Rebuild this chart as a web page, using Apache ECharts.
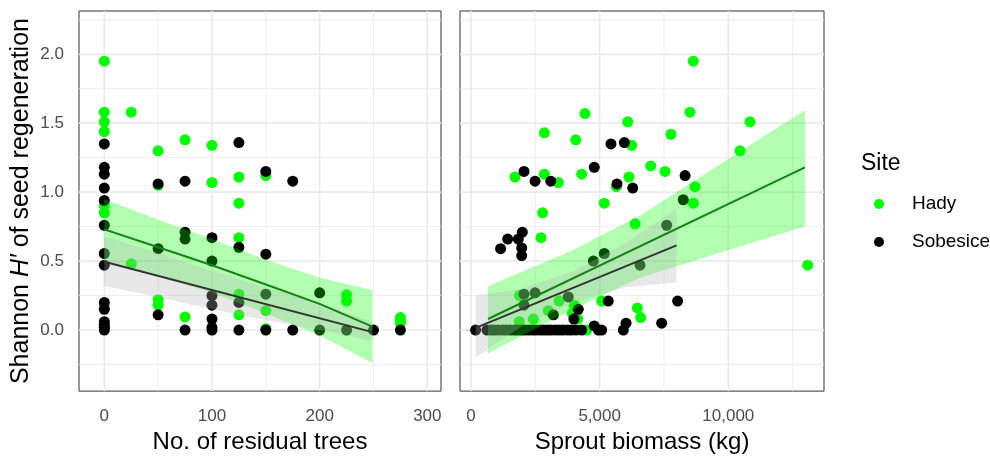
<!DOCTYPE html>
<html>
<head>
<meta charset="utf-8">
<script src="https://cdn.jsdelivr.net/npm/echarts@6/dist/echarts.min.js"></script>
<style>html,body{margin:0;padding:0;background:#fff}#c{width:990px;height:459px}</style>
</head>
<body>
<div id="c"></div>
<script>
// ---- tick values ----
const yTicks = [0, 0.5, 1, 1.5, 2];
const yMinor = [-0.25, 0.25, 0.75, 1.25, 1.75, 2.25];
const xTicksTrees = [0, 100, 200, 300];
const xMinorTrees = [50, 150, 250];
const xTicksBiomass = [0, 5000, 10000];
const xMinorBiomass = [2500, 7500, 12500];

// ---- points: No. of residual trees ----
const treesHady = [
  [0,1.95],[0,1.58],[0,1.51],[0,1.44],[0,0.90],[0,0.85],[0,0.16],[0,0.02],
  [25,1.58],[25,0.48],
  [50,1.30],[50,1.05],[50,0.22],[50,0.18],
  [75,1.38],[75,0.095],
  [100,1.34],[100,1.07],
  [125,1.11],[125,0.92],[125,0.67],[125,0.26],[125,0.11],
  [150,1.12],[150,0.14],[150,0.01],
  [225,0.255],[225,0.21],
  [275,0.09],[275,0.065],[275,0.05]
];
const treesSobesice = [
  [0,1.35],[0,1.18],[0,1.13],[0,1.03],[0,0.94],[0,0.76],[0,0.555],[0,0.47],[0,0.20],[0,0.15],[0,0.06],[0,0.04],[0,0.02],[0,0.0],
  [50,1.06],[50,0.59],[50,0.11],
  [75,1.08],[75,0.71],[75,0.66],[75,0.0],
  [100,0.67],[100,0.50],[100,0.25],[100,0.18],[100,0.08],[100,0.02],[100,0.0],
  [125,1.36],[125,0.60],[125,0.20],[125,0.0],
  [150,1.15],[150,0.55],[150,0.26],[150,0.0],
  [175,1.08],[175,0.0],
  [200,0.27],[200,0.0],
  [225,0.0],[250,0.0],[275,0.0]
];
// ---- points: Sprout biomass ----
const biomassHady = [
  [8640,1.95],[4430,1.57],[8510,1.58],[6090,1.51],[10845,1.51],[2850,1.43],[4070,1.38],[6245,1.34],
  [7770,1.42],[10455,1.30],[1710,1.11],[2850,1.13],[3395,1.07],[4300,1.13],[6985,1.19],[7540,1.15],
  [5650,1.04],[6140,1.11],[8705,1.04],[8640,0.92],[5180,0.92],[2785,0.85],[2720,0.67],[6375,0.77],
  [13085,0.47],[1880,0.25],[1880,0.06],[2420,0.08],[3005,0.14],[3420,0.21],[4015,0.18],[3940,0.12],
  [4145,0.08],[5080,0.21],[6465,0.16],[6595,0.09],[4500,0.0]
];
const biomassSobesice = [
  [5440,1.35],[5960,1.36],[2060,1.15],[2490,1.08],[3100,1.08],[4790,1.18],[8320,1.12],[5675,1.06],
  [6285,1.03],[8250,0.945],[1150,0.59],[1425,0.66],[1840,0.66],[1995,0.71],[1970,0.595],[1970,0.54],
  [7605,0.76],[4755,0.50],[5180,0.555],[6570,0.47],[2060,0.26],[2490,0.27],[2060,0.18],[3200,0.11],
  [3780,0.24],[4170,0.15],[4000,0.08],[5335,0.21],[8030,0.21],[6025,0.05],[5920,0.0],[7410,0.05],
  [4790,0.03],[4950,0.0],[5080,0.0],[180,0.0],
  [620,0],[780,0],[910,0],[1060,0],[1230,0],[1370,0],[1520,0],[1680,0],[1810,0],[1960,0],
  [2090,0],[2240,0],[2400,0],[2530,0],[2690,0],[2830,0],[2980,0],[3120,0],[3290,0],[3440,0],
  [3580,0],[3760,0],[3900,0],[4080,0],[4300,0]
];

// ---- fitted lines and confidence ribbons [x, lower, upper] ----
const treesHadyFit = [[0,0.73],[50,0.60],[100,0.47],[150,0.33],[200,0.19],[249,0.025]];
const treesHadyBand = [[0,0.50,0.95],[50,0.39,0.80],[100,0.27,0.66],[150,0.12,0.51],[200,-0.04,0.38],[249,-0.24,0.29]];
const treesSobFit = [[0,0.495],[249,-0.015]];
const treesSobBand = [[0,0.32,0.68],[50,0.24,0.56],[100,0.15,0.43],[150,0.07,0.31],[200,0.0,0.19],[249,-0.08,0.06]];
const biomassHadyFit = [[660,0.08],[12980,1.18]];
const biomassHadyBand = [[660,-0.17,0.32],[3850,0.14,0.57],[6570,0.38,0.83],[10455,0.605,1.295],[12980,0.75,1.595]];
const biomassSobFit = [[180,0.016],[7990,0.614]];
const biomassSobBand = [[180,-0.20,0.25],[2000,0.03,0.30],[4000,0.20,0.43],[6000,0.31,0.63],[7990,0.345,0.88]];

const FONT = '"Liberation Sans", Arial, sans-serif';
const GREEN = '#00ff00';
const GREEN_LINE = '#148414';
const BLACK = '#000000';
const GREY_LINE = '#333333';
const GREEN_FILL = 'rgba(0,255,0,0.30)';
const GREY_FILL = 'rgba(180,180,180,0.30)';

function gridLines(xi, xMaj, xMin) {
  const rows = [];
  xMaj.forEach(v => rows.push([v, 0, 0, 1]));
  xMin.forEach(v => rows.push([v, 0, 0, 0]));
  yTicks.forEach(v => rows.push([xMaj[0], v, 1, 1]));
  yMinor.forEach(v => rows.push([xMaj[0], v, 1, 0]));
  return {
    type: 'custom', xAxisIndex: xi, yAxisIndex: xi, z: 1, silent: true, animation: false,
    data: rows,
    renderItem(params, api) {
      const cs = params.coordSys;
      const p = api.coord([api.value(0), api.value(1)]);
      const style = { stroke: '#ebebeb', lineWidth: api.value(3) ? 1.7 : 0.85 };
      if (api.value(2) === 0) {
        return { type: 'line', shape: { x1: p[0], y1: cs.y, x2: p[0], y2: cs.y + cs.height }, style };
      }
      return { type: 'line', shape: { x1: cs.x, y1: p[1], x2: cs.x + cs.width, y2: p[1] }, style };
    }
  };
}
function ribbon(band, fill, xi) {
  return {
    type: 'custom', xAxisIndex: xi, yAxisIndex: xi, z: 3, silent: true, animation: false,
    data: [[band[0][0], band[0][1]]],
    renderItem(params, api) {
      const up = band.map(r => api.coord([r[0], r[2]]));
      const lo = band.slice().reverse().map(r => api.coord([r[0], r[1]]));
      return { type: 'polygon', shape: { points: up.concat(lo) }, style: { fill: fill } };
    }
  };
}
function fitLine(data, color, xi) {
  return { type: 'line', xAxisIndex: xi, yAxisIndex: xi, z: 3, data, symbol: 'none', silent: true,
    lineStyle: { color, width: 2 }, animation: false };
}
function pts(name, data, color, xi) {
  return { type: 'scatter', name, xAxisIndex: xi, yAxisIndex: xi, z: 2, data, symbolSize: 11,
    itemStyle: { color, opacity: 1 }, animation: false };
}
const tickStyle = { show: true, length: 5, lineStyle: { color: '#333', width: 1 } };
const labelStyle = { color: '#4d4d4d', fontSize: 17, fontFamily: FONT };
const nameStyle = { color: '#000', fontSize: 24, fontFamily: FONT };

const option = {
  animation: false,
  backgroundColor: '#fff',
  title: { text: 'Site', left: 861, top: 152, padding: 0,
    textStyle: { fontSize: 23, fontWeight: 'normal', color: '#000', fontFamily: FONT } },
  legend: {
    data: ['Hady', 'Sobesice'], orient: 'vertical', left: 874, top: 194, padding: 0,
    icon: 'circle', itemWidth: 10, itemHeight: 10, itemGap: 18,
    textStyle: { fontSize: 19, lineHeight: 20, color: '#000', fontFamily: FONT, padding: [0, 0, 0, 23] }
  },
  grid: [
    { left: 79, top: 11, width: 362, height: 386, show: true, borderColor: '#333', borderWidth: 1, backgroundColor: 'rgba(0,0,0,0)' },
    { left: 460, top: 11, width: 364, height: 386, show: true, borderColor: '#333', borderWidth: 1, backgroundColor: 'rgba(0,0,0,0)' }
  ],
  xAxis: [
    { gridIndex: 0, type: 'value', min: -23.5, max: 312.7,
      axisLine: { show: false }, splitLine: { show: false },
      axisTick: Object.assign({ customValues: xTicksTrees }, tickStyle),
      axisLabel: Object.assign({ customValues: xTicksTrees, margin: 17 }, labelStyle),
      name: 'No. of residual trees', nameLocation: 'middle', nameGap: 34, nameTextStyle: nameStyle },
    { gridIndex: 1, type: 'value', min: -427.5, max: 13719,
      axisLine: { show: false }, splitLine: { show: false },
      axisTick: Object.assign({ customValues: xTicksBiomass }, tickStyle),
      axisLabel: Object.assign({ customValues: xTicksBiomass, margin: 17,
        formatter: v => Number(v).toLocaleString('en-US') }, labelStyle),
      name: 'Sprout biomass (kg)', nameLocation: 'middle', nameGap: 34, nameTextStyle: nameStyle }
  ],
  yAxis: [
    { gridIndex: 0, type: 'value', min: -0.443, max: 2.314,
      axisLine: { show: false }, splitLine: { show: false },
      axisTick: Object.assign({ customValues: yTicks }, tickStyle),
      axisLabel: Object.assign({ customValues: yTicks, margin: 15, formatter: v => Number(v).toFixed(1) }, labelStyle),
      name: 'Shannon {i|H′} of seed regeneration', nameLocation: 'middle', nameGap: 45,
      nameTextStyle: { color: '#000', fontSize: 25, fontFamily: FONT,
        rich: { i: { fontStyle: 'italic', fontSize: 25, fontFamily: FONT, color: '#000' } } } },
    { gridIndex: 1, type: 'value', min: -0.443, max: 2.314,
      axisLine: { show: false }, splitLine: { show: false },
      axisTick: Object.assign({ customValues: yTicks }, tickStyle),
      axisLabel: { show: false } }
  ],
  series: [
    gridLines(0, xTicksTrees, xMinorTrees),
    gridLines(1, xTicksBiomass, xMinorBiomass),
    pts('Hady', treesHady, GREEN, 0),
    pts('Sobesice', treesSobesice, BLACK, 0),
    pts('Hady', biomassHady, GREEN, 1),
    pts('Sobesice', biomassSobesice, BLACK, 1),
    ribbon(treesHadyBand, GREEN_FILL, 0),
    fitLine(treesHadyFit, GREEN_LINE, 0),
    ribbon(treesSobBand, GREY_FILL, 0),
    fitLine(treesSobFit, GREY_LINE, 0),
    ribbon(biomassHadyBand, GREEN_FILL, 1),
    fitLine(biomassHadyFit, GREEN_LINE, 1),
    ribbon(biomassSobBand, GREY_FILL, 1),
    fitLine(biomassSobFit, GREY_LINE, 1)
  ]
};
const chart = echarts.init(document.getElementById('c'), null, { renderer: 'canvas' });
chart.setOption(option);
</script>
</body>
</html>
